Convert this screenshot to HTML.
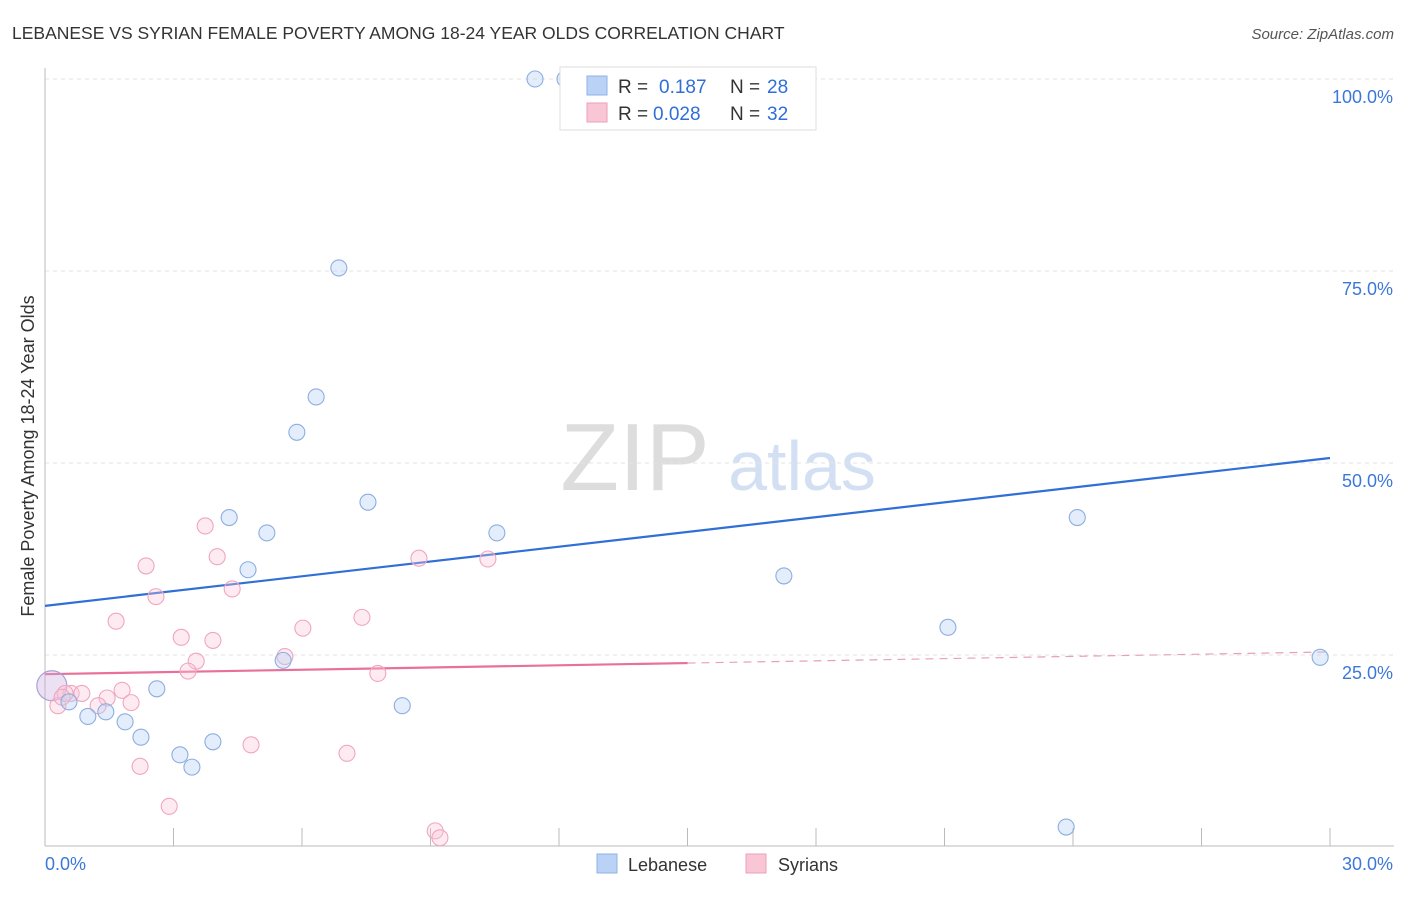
<!DOCTYPE html>
<html><head><meta charset="utf-8">
<style>
body{margin:0;background:#fff;font-family:"Liberation Sans",sans-serif;}
svg text{font-family:"Liberation Sans",sans-serif;}
</style></head>
<body>
<svg id="chart" width="1406" height="892" xmlns="http://www.w3.org/2000/svg">
<text x="12" y="39" font-size="17.5" fill="#333">LEBANESE VS SYRIAN FEMALE POVERTY AMONG 18-24 YEAR OLDS CORRELATION CHART</text>
<text x="1394" y="39" font-size="15" fill="#555" font-style="italic" text-anchor="end">Source: ZipAtlas.com</text>
<text transform="translate(34,456) rotate(-90)" font-size="18" fill="#333" text-anchor="middle">Female Poverty Among 18-24 Year Olds</text>
<g>
<text x="635" y="490" font-size="96" fill="#ddd" font-family="Liberation Serif,serif" text-anchor="middle">ZIP</text>
<text x="802" y="490" font-size="70" fill="#d3e0f3" text-anchor="middle">atlas</text>
</g>
<g id="grid"></g>
<g id="axes"></g>
<g id="lines"></g>
<g id="points"></g>
<g>
<rect x="560" y="67" width="256" height="63" fill="#fff" stroke="#ddd"/>
<rect x="587" y="76" width="20" height="19" fill="#b9d2f5" stroke="#8fb2e6"/>
<text x="618" y="93" font-size="19" fill="#333">R =</text>
<text x="659" y="93" font-size="19" fill="#2f6fd6">0.187</text>
<text x="730" y="93" font-size="19" fill="#333">N =</text>
<text x="767" y="93" font-size="19" fill="#2f6fd6">28</text>
<rect x="587" y="103" width="20" height="19" fill="#f9c6d6" stroke="#ee9fb8"/>
<text x="618" y="120" font-size="19" fill="#333">R =</text>
<text x="653" y="120" font-size="19" fill="#2f6fd6">0.028</text>
<text x="730" y="120" font-size="19" fill="#333">N =</text>
<text x="767" y="120" font-size="19" fill="#2f6fd6">32</text>
</g>
<g>
<rect x="597" y="854" width="20" height="19" fill="#b9d2f5" stroke="#8fb2e6"/>
<text x="628" y="871" font-size="18" fill="#333">Lebanese</text>
<rect x="746" y="854" width="20" height="19" fill="#f9c6d6" stroke="#ee9fb8"/>
<text x="778" y="871" font-size="18" fill="#333">Syrians</text>
</g>
</svg>
<script>
const leb_x=[11.44,12.14,14.01,6.86,6.33,5.88,7.54,4.30,5.18,10.55,4.74,17.25,21.08,24.10,29.77,5.56,2.61,0.56,1.00,1.42,1.87,2.24,3.15,3.43,3.92,8.34,23.84];
const leb_y=[100,100,100,75.4,58.6,54.0,44.9,42.9,40.9,40.9,36.1,35.3,28.6,42.9,24.7,24.3,20.6,18.9,17.0,17.6,16.3,14.3,12.0,10.4,13.7,18.4,2.6];
const syr_x=[3.74,2.36,4.02,8.73,10.34,4.37,2.59,1.66,7.40,3.18,3.92,6.02,3.53,3.34,5.60,7.77,1.80,0.61,0.86,1.45,2.01,1.24,0.30,0.47,4.81,7.05,2.22,2.90,9.11,9.22,0.40];
const syr_y=[41.8,36.6,37.8,37.6,37.5,33.6,32.6,29.4,29.9,27.3,26.9,28.5,24.2,22.9,24.8,22.6,20.4,20.0,20.0,19.4,18.8,18.4,18.4,20.0,13.3,12.2,10.5,5.3,2.1,1.2,19.5];
const big_point=[0.16,21.0];
const leb_line=[31.4,50.65];
const syr_line=[22.5,25.4];
const y_ticks=[25,50,75,100];
const NS="http://www.w3.org/2000/svg";
const X=v=>45+v*(1285/30);
const Y=v=>847-v*7.68;
function mk(parent,tag,attrs){const e=document.createElementNS(NS,tag);for(const k in attrs)e.setAttribute(k,attrs[k]);document.getElementById(parent).appendChild(e);return e;}
y_ticks.forEach(t=>{
 const g=mk('grid','line',{x1:45,x2:1394,y1:Y(t),y2:Y(t),stroke:'#e3e3e3','stroke-dasharray':'4,4'});
 
 
 const l=mk('axes','text',{x:1393,y:Y(t)+24,'font-size':18,fill:'#3c78d8','text-anchor':'end'});
 l.textContent=t.toFixed(1)+'%';
 
 
});
const ax=mk('axes','line',{x1:45,x2:45,y1:68,y2:846,stroke:'#bbb'});


const bx=mk('axes','line',{x1:45,x2:1394,y1:846,y2:846,stroke:'#bbb'});


for(let i=1;i<=10;i++){const t=mk('axes','line',{x1:X(i*3),x2:X(i*3),y1:828,y2:846,stroke:'#bbb'});
 
 }
const x0=mk('axes','text',{x:45,y:870,'font-size':18,fill:'#3c78d8'});x0.textContent='0.0%';


const x1=mk('axes','text',{x:1393,y:870,'font-size':18,fill:'#3c78d8','text-anchor':'end'});x1.textContent='30.0%';


const bl=mk('lines','line',{x1:X(0),y1:Y(leb_line[0]),x2:X(30),y2:Y(leb_line[1]),stroke:'#2f6fd6','stroke-width':2.2});


const sm=syr_line[0]+(syr_line[1]-syr_line[0])*0.5;
const pl=mk('lines','line',{x1:X(0),y1:Y(syr_line[0]),x2:X(15),y2:Y(sm),stroke:'#e8709a','stroke-width':2.2});


const pd=mk('lines','line',{x1:X(15),y1:Y(sm),x2:X(30),y2:Y(syr_line[1]),stroke:'#e8a0b8','stroke-width':1.2,'stroke-dasharray':'8,6'});


const bp=mk('points','circle',{cx:X(big_point[0]),cy:Y(big_point[1]),r:15,fill:'rgba(200,170,220,0.35)',stroke:'#a9a0d8','stroke-width':1.2});


syr_x.forEach((v,i)=>{const c=mk('points','circle',{cx:X(v),cy:Y(syr_y[i]),r:8,fill:'rgba(249,198,214,0.35)',stroke:'#f0a6be','stroke-width':1.1});
 
 });
leb_x.forEach((v,i)=>{const c=mk('points','circle',{cx:X(v),cy:Y(leb_y[i]),r:8,fill:'rgba(185,210,245,0.4)',stroke:'#8caee0','stroke-width':1.1});
 
 });
</script>
</body></html>
